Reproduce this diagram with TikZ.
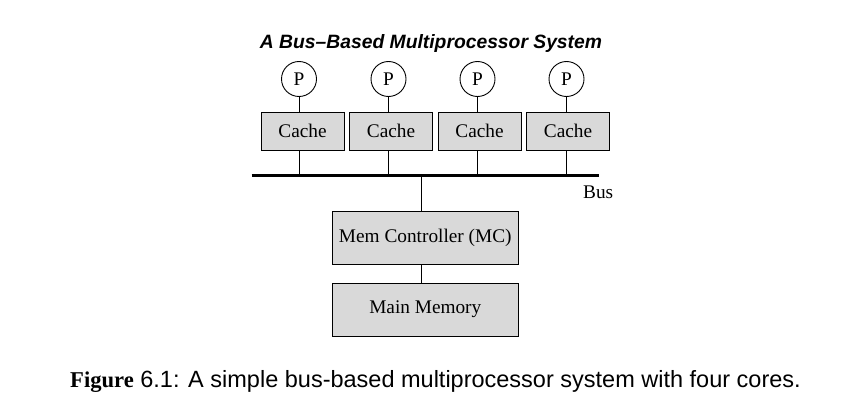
\documentclass[tikz,border=0pt]{standalone}
\usepackage{fontspec}
\setmainfont{Liberation Serif}
\setsansfont{Liberation Sans}
\tikzset{
  boxfont/.style={font=\fontsize{19.3}{23}\selectfont},
  pnode/.style={draw, circle, minimum size=35pt, inner sep=0pt, line width=0.9pt, boxfont},
  cachebox/.style={draw, fill=black!15, minimum width=83pt, minimum height=38pt, inner sep=0pt, line width=0.9pt, boxfont},
  membox/.style={draw, fill=black!15, minimum width=186pt, minimum height=53pt, inner sep=0pt, line width=0.9pt, boxfont},
  wire/.style={line width=0.9pt},
  busline/.style={line width=3.3pt},
}
\begin{document}
\begin{tikzpicture}[x=1pt,y=-1pt]
\useasboundingbox (0,0) rectangle (849,412);
% title
\node[anchor=base, inner sep=0pt, font=\sffamily\bfseries\itshape\fontsize{19.3}{23}\selectfont] (title) at (431,49) {A Bus–Based Multiprocessor System};
% bus
\coordinate (busL) at (251.7,175.7);
\coordinate (busR) at (599,175.7);
\draw[busline] (busL) -- (busR);
\node[anchor=base west, inner sep=0pt, boxfont] (buslabel) at (583,198.3) {Bus};
% processors and caches
\foreach \i/\px/\cx in {1/299/302.5, 2/388.5/391, 3/477.5/479.5, 4/566.5/568} {
  \coordinate (b\i) at (\px,175.7);
  \node[pnode] (p\i) at (\px,79) {P};
  \node[cachebox] (c\i) at (\cx,131) {Cache};
  \draw[wire] (p\i.south) -- (c\i.north -| p\i);
  \draw[wire] (c\i.south -| p\i) -- (b\i);
}
% memory
\coordinate (bm) at (421.7,175.7);
\node[membox] (mc) at (425.3,237.5) {Mem Controller (MC)};
\node[membox] (mm) at (425.3,309.5) {Main Memory};
\draw[wire] (bm) -- (mc.north -| bm);
\draw[wire] (mc.south -| bm) -- (mm.north -| bm);
% caption
\node[anchor=base, inner sep=0pt] (caption) at (435.5,387.3) {\fontsize{22.6}{26}\selectfont\textbf{Figure}\sffamily\fontsize{23.5}{26}\selectfont{} 6.1: A simple bus-based multiprocessor system with four cores.};
\end{tikzpicture}
\end{document}
